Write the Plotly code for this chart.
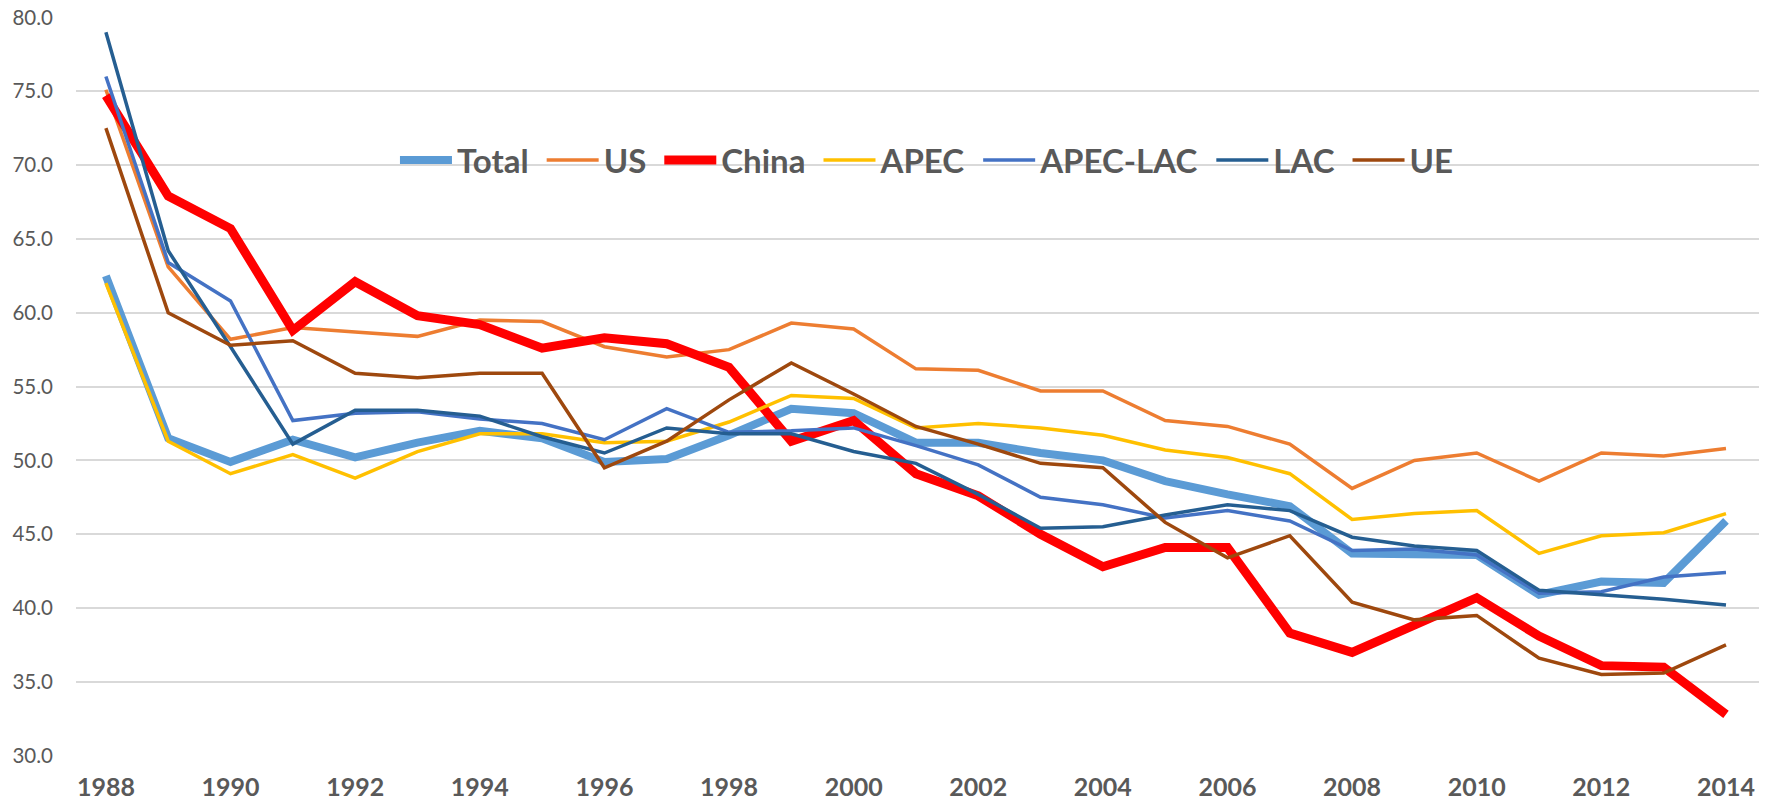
import plotly.graph_objects as go

years = list(range(1988, 2015))

total = [62.5, 51.5, 49.9, 51.4, 50.2, 51.2, 52.0, 51.5, 49.9, 50.1, 51.7, 53.5, 53.2, 51.2,
         51.2, 50.5, 50.0, 48.6, 47.7, 46.9, 43.7, 43.7, 43.6, 40.9, 41.8, 41.7, 45.9]
us = [75.1, 63.1, 58.2, 59.0, 58.7, 58.4, 59.5, 59.4, 57.7, 57.0, 57.5, 59.3, 58.9, 56.2,
      56.1, 54.7, 54.7, 52.7, 52.3, 51.1, 48.1, 50.0, 50.5, 48.6, 50.5, 50.3, 50.8]
china = [74.7, 67.9, 65.7, 58.8, 62.1, 59.8, 59.2, 57.6, 58.3, 57.9, 56.3, 51.3, 52.7, 49.1,
         47.6, 45.0, 42.8, 44.1, 44.1, 38.3, 37.0, 38.9, 40.7, 38.1, 36.1, 36.0, 32.8]
apec = [62.0, 51.3, 49.1, 50.4, 48.8, 50.6, 51.8, 51.8, 51.2, 51.3, 52.6, 54.4, 54.2, 52.2,
        52.5, 52.2, 51.7, 50.7, 50.2, 49.1, 46.0, 46.4, 46.6, 43.7, 44.9, 45.1, 46.4]
apec_lac = [76.0, 63.4, 60.8, 52.7, 53.2, 53.3, 52.8, 52.5, 51.4, 53.5, 51.9, 52.0, 52.2, 51.0,
            49.7, 47.5, 47.0, 46.1, 46.6, 45.9, 43.9, 44.0, 43.6, 41.0, 41.1, 42.1, 42.4]
lac = [79.0, 64.2, 57.7, 51.1, 53.4, 53.4, 53.0, 51.6, 50.5, 52.2, 51.8, 51.8, 50.6, 49.8,
       47.7, 45.4, 45.5, 46.3, 47.0, 46.6, 44.8, 44.2, 43.9, 41.2, 40.9, 40.6, 40.2]
ue = [72.5, 60.0, 57.8, 58.1, 55.9, 55.6, 55.9, 55.9, 49.5, 51.3, 54.1, 56.6, 54.5, 52.3,
      51.1, 49.8, 49.5, 45.8, 43.4, 44.9, 40.4, 39.2, 39.5, 36.6, 35.5, 35.6, 37.5]

x_ticks = list(range(1988, 2015, 2))
y_ticks = [30, 35, 40, 45, 50, 55, 60, 65, 70, 75, 80]

series = [
    ("Total", total, "#5B9BD5", 8),
    ("US", us, "#ED7D31", 3.5),
    ("China", china, "#FF0000", 9),
    ("APEC", apec, "#FFC000", 3.5),
    ("APEC-LAC", apec_lac, "#4472C4", 3.5),
    ("LAC", lac, "#255E91", 3.5),
    ("UE", ue, "#9E480E", 3.5),
]

FONT = "Lato, Open Sans, sans-serif"
GREY = "#595959"

fig = go.Figure()
for name, vals, color, w in series:
    fig.add_trace(go.Scatter(x=years, y=vals, name=name + "\u00a0", mode="lines",
                             line=dict(color=color, width=w)))

# page body has an 8px default margin, so the figure is sized to fill the window
fig.update_layout(
    width=1763, height=794,
    paper_bgcolor="white", plot_bgcolor="white",
    margin=dict(l=68, r=12, t=9, b=46),
    font=dict(family=FONT, color=GREY),
    showlegend=True,
    legend=dict(orientation="h", x=0.508, y=0.8065, xanchor="center", yanchor="middle",
                bgcolor="rgba(0,0,0,0)", font=dict(size=33, family=FONT, color=GREY,
                                                    weight="bold"),
                itemwidth=52, tracegroupgap=0),
    xaxis=dict(range=[1987.52, 2014.53], tickvals=x_ticks, ticktext=[str(t) for t in x_ticks],
               showgrid=False, zeroline=False, showline=False, ticks="", automargin=False,
               tickfont=dict(size=25, family=FONT, color=GREY, weight="bold"),
               ticklabelstandoff=14, ticklabeloverflow="allow"),
    yaxis=dict(range=[29.98, 80.03], tickvals=y_ticks, ticktext=[f"{t:.1f}" for t in y_ticks],
               showgrid=True, gridcolor="#D9D9D9", gridwidth=2, zeroline=False,
               showline=False, ticks="", automargin=False,
               tickfont=dict(size=20.5, family=FONT, color=GREY),
               ticklabelstandoff=22, ticklabeloverflow="allow"),
)

fig.write_html("out.html")
